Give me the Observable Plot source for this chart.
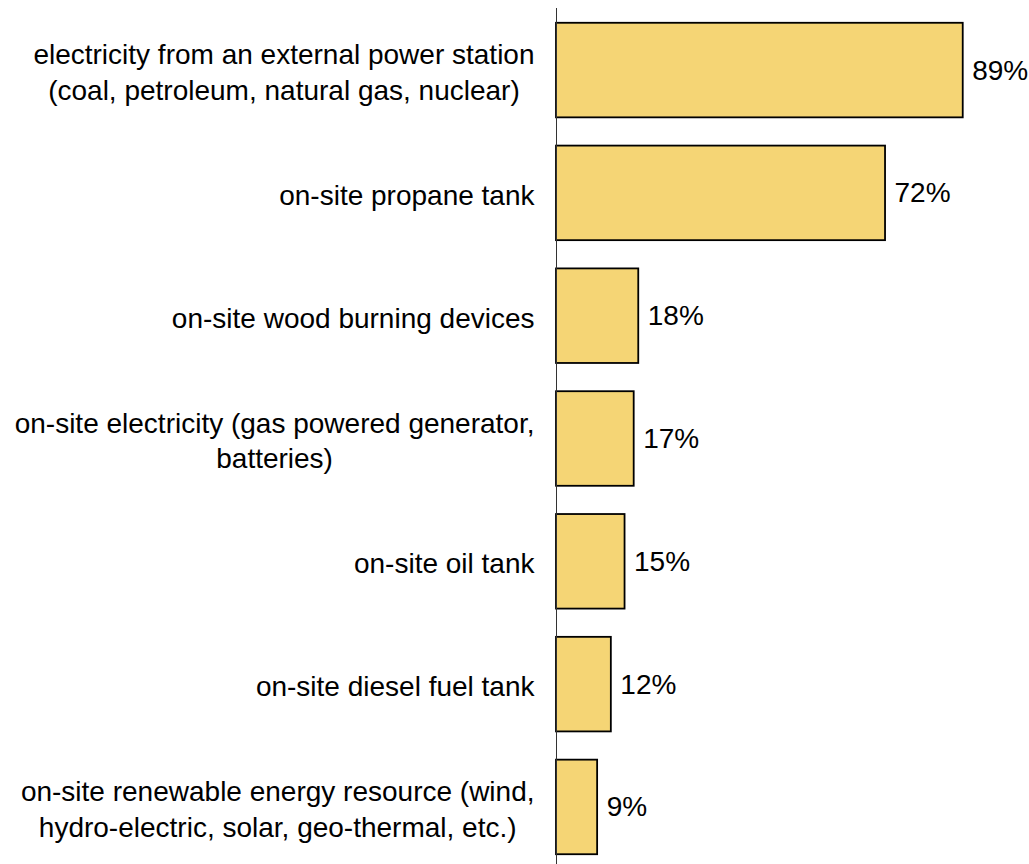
<!DOCTYPE html>
<html>
<head>
<meta charset="utf-8">
<script src="https://cdn.jsdelivr.net/npm/d3@7"></script>
<script src="https://cdn.jsdelivr.net/npm/@observablehq/plot@0.6"></script>
<style>
  html, body { margin: 0; padding: 0; background: white; }
  #chart { width: 1029px; height: 864px; }
</style>
</head>
<body>
<div id="chart"></div>
<script>
const categories = [
  "electricity from an external power station\n(coal, petroleum, natural gas, nuclear)",
  "on-site propane tank",
  "on-site wood burning devices",
  "on-site electricity (gas powered generator,\nbatteries)",
  "on-site oil tank",
  "on-site diesel fuel tank",
  "on-site renewable energy resource (wind,\nhydro-electric, solar, geo-thermal, etc.)"
];
const values = [89, 72, 18, 17, 15, 12, 9];

const data = categories.map((c, i) => ({category: c, value: values[i]}));

const FONT_FAMILY = "'Liberation Sans', Arial, sans-serif";
const FONT_SIZE = 28;

const ctx = document.createElement("canvas").getContext("2d");
ctx.font = `${FONT_SIZE}px ${FONT_FAMILY}`;
const blockWidth = label => d3.max(label.split("\n"), l => ctx.measureText(l).width);

const labelGap = 22;
const labelMarks = data.map(d => Plot.text([d], {
  x: 0,
  y: "category",
  text: "category",
  textAnchor: "middle",
  lineAnchor: "middle",
  lineHeight: 1.27,
  dx: -(labelGap + blockWidth(d.category) / 2),
  fontSize: FONT_SIZE,
  fill: "black"
}));

const chart = Plot.plot({
  width: 1029,
  height: 864,
  marginLeft: 556,
  marginRight: 16,
  marginTop: 8,
  marginBottom: 0,
  x: {domain: [0, 100], axis: null},
  y: {domain: categories, range: [10.5, 866.5], paddingInner: 0.23, paddingOuter: 0.1, round: false, axis: null},
  style: {fontFamily: FONT_FAMILY, fontSize: FONT_SIZE + "px", background: "white", color: "black"},
  marks: [
    Plot.barX(data, {x: "value", y: "category", fill: "#F5D575", stroke: "black", strokeWidth: 1.8}),
    Plot.ruleX([0], {stroke: "#333", strokeWidth: 1}),
    Plot.text(data, {x: "value", y: "category", text: d => d.value + "%", textAnchor: "start", dx: 9, fontSize: FONT_SIZE, fill: "black"}),
    ...labelMarks
  ]
});
document.getElementById("chart").appendChild(chart);
</script>
</body>
</html>
